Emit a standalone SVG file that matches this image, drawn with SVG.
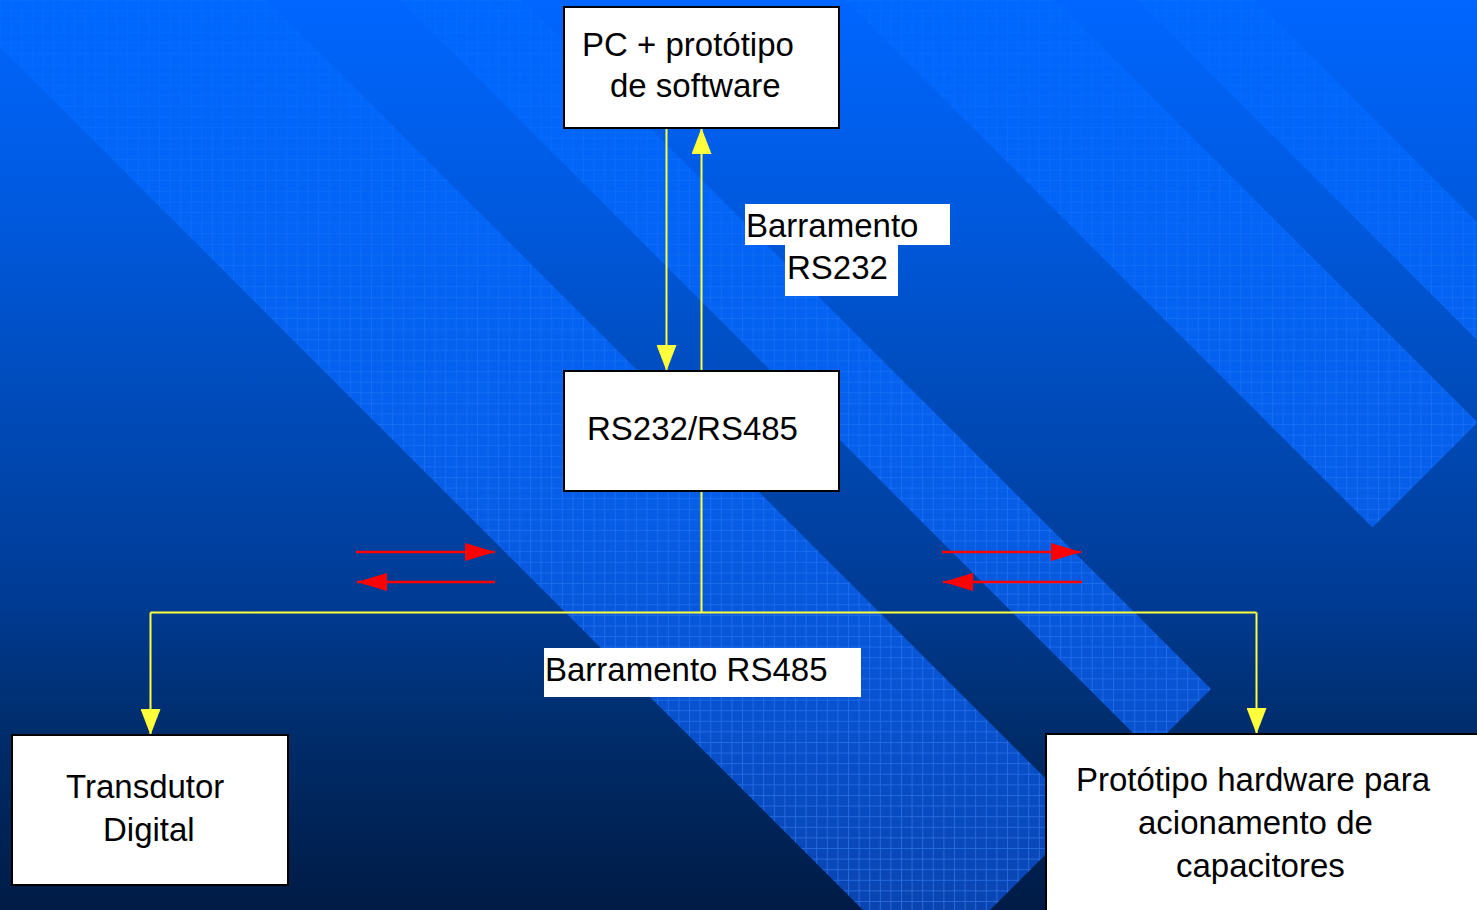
<svg xmlns="http://www.w3.org/2000/svg" width="1477" height="910" viewBox="0 0 1477 910">
<defs>
<linearGradient id="bgGrad" x1="0" y1="0" x2="0" y2="910" gradientUnits="userSpaceOnUse">
<stop offset="0" stop-color="#0066ff"/>
<stop offset="0.22" stop-color="#005ae0"/>
<stop offset="0.5" stop-color="#0047b0"/>
<stop offset="0.66" stop-color="#003b94"/>
<stop offset="0.8" stop-color="#002d6c"/>
<stop offset="1" stop-color="#001b45"/>
</linearGradient>
<linearGradient id="bandGrad" x1="0" y1="0" x2="0" y2="910" gradientUnits="userSpaceOnUse">
<stop offset="0" stop-color="#0068ff"/>
<stop offset="0.5" stop-color="#0660ec"/>
<stop offset="0.75" stop-color="#0854d4"/>
<stop offset="1" stop-color="#0a44b0"/>
</linearGradient>
<linearGradient id="fadeGrad" x1="0" y1="0" x2="0" y2="910" gradientUnits="userSpaceOnUse">
<stop offset="0" stop-color="#ffffff" stop-opacity="0.2"/>
<stop offset="0.45" stop-color="#ffffff" stop-opacity="0.55"/>
<stop offset="1" stop-color="#ffffff" stop-opacity="1"/>
</linearGradient>
<mask id="gridFade" maskUnits="userSpaceOnUse" x="0" y="0" width="1477" height="910">
<rect x="0" y="0" width="1477" height="910" fill="url(#fadeGrad)"/>
</mask>
<pattern id="grid" width="10.6" height="10.6" patternUnits="userSpaceOnUse">
<path d="M0 0.5H10.6M0.5 0V10.6" stroke="#3d88ff" stroke-opacity="0.55" stroke-width="1" fill="none"/>
</pattern>
<marker id="arrowY" viewBox="0 0 26 20" markerWidth="26" markerHeight="20" refX="26" refY="10" orient="auto" markerUnits="userSpaceOnUse"><path d="M0 0L26 10L0 20z" fill="#ffff3c"/></marker>
<marker id="arrowR" viewBox="0 0 30 18" markerWidth="30" markerHeight="18" refX="30" refY="9" orient="auto" markerUnits="userSpaceOnUse"><path d="M0 0L30 9L0 18z" fill="#ff0000"/></marker>
</defs>
<style>
.box{fill:#ffffff;stroke:#000000;stroke-width:2}
.lbl{fill:#ffffff}
.t{font-family:"Liberation Sans",Arial,sans-serif;font-size:33px;fill:#000000}
.y{stroke:#ffff3c;stroke-width:2;fill:none}
.r{stroke:#ff0000;stroke-width:2.5;fill:none}
.band{fill:url(#bandGrad)}
.gridfill{fill:url(#grid)}
</style>
<g id="background">
<rect x="0" y="0" width="1477" height="910" fill="url(#bgGrad)"/>
<g id="bands">
<polygon class="band" points="-300,-567 1083.5,816.5 926.5,973.5 -300,-253"/>
<polygon class="band" points="0,-522 1211,689 1150,750 0,-400"/>
<polygon class="band" points="500,-555 1477.5,422.5 1372.5,527.5 500,-345"/>
<polygon class="band" points="900,-355 1577.5,322.5 1518.5,381.5 900,-237"/>
</g>
<g id="band-grids" mask="url(#gridFade)">
<polygon class="gridfill" points="-300,-567 1083.5,816.5 926.5,973.5 -300,-253"/>
<polygon class="gridfill" points="0,-522 1211,689 1150,750 0,-400"/>
<polygon class="gridfill" points="500,-555 1477.5,422.5 1372.5,527.5 500,-345"/>
<polygon class="gridfill" points="900,-355 1577.5,322.5 1518.5,381.5 900,-237"/>
</g>
</g>
<g id="connectors">
<path class="y" d="M666.5 128V371" marker-end="url(#arrowY)"/>
<path class="y" d="M701.5 371V128" marker-end="url(#arrowY)"/>
<path class="y" d="M701.5 491V612.5"/>
<path class="y" d="M150.5 612.5H1256.5"/>
<path class="y" d="M150.5 612.5V735" marker-end="url(#arrowY)"/>
<path class="y" d="M1256.5 612.5V734" marker-end="url(#arrowY)"/>
<path class="r" d="M356 552H495" marker-end="url(#arrowR)"/>
<path class="r" d="M495 582H357" marker-end="url(#arrowR)"/>
<path class="r" d="M942 552H1081" marker-end="url(#arrowR)"/>
<path class="r" d="M1082 582H943" marker-end="url(#arrowR)"/>
</g>
<g id="node-pc">
<rect class="box" x="564" y="7" width="275" height="121"/>
<text class="t" x="582" y="56">PC + protótipo</text>
<text class="t" x="610" y="97">de software</text>
</g>
<g id="node-rs232-rs485">
<rect class="box" x="564" y="371" width="275" height="120"/>
<text class="t" x="587" y="440">RS232/RS485</text>
</g>
<g id="node-transdutor">
<rect class="box" x="12" y="735" width="276" height="150"/>
<text class="t" x="66" y="798">Transdutor</text>
<text class="t" x="103" y="841">Digital</text>
</g>
<g id="node-prototipo">
<rect class="box" x="1046" y="734" width="440" height="190"/>
<text class="t" x="1076" y="791">Protótipo hardware para</text>
<text class="t" x="1138" y="834">acionamento de</text>
<text class="t" x="1176" y="877">capacitores</text>
</g>
<g id="label-rs232">
<rect class="lbl" x="745" y="204" width="205" height="41"/>
<rect class="lbl" x="785" y="245" width="113" height="51"/>
<text class="t" x="746" y="237">Barramento</text>
<text class="t" x="787" y="279">RS232</text>
</g>
<g id="label-rs485">
<rect class="lbl" x="544" y="648" width="317" height="49"/>
<text class="t" x="545" y="681">Barramento RS485</text>
</g>
</svg>
